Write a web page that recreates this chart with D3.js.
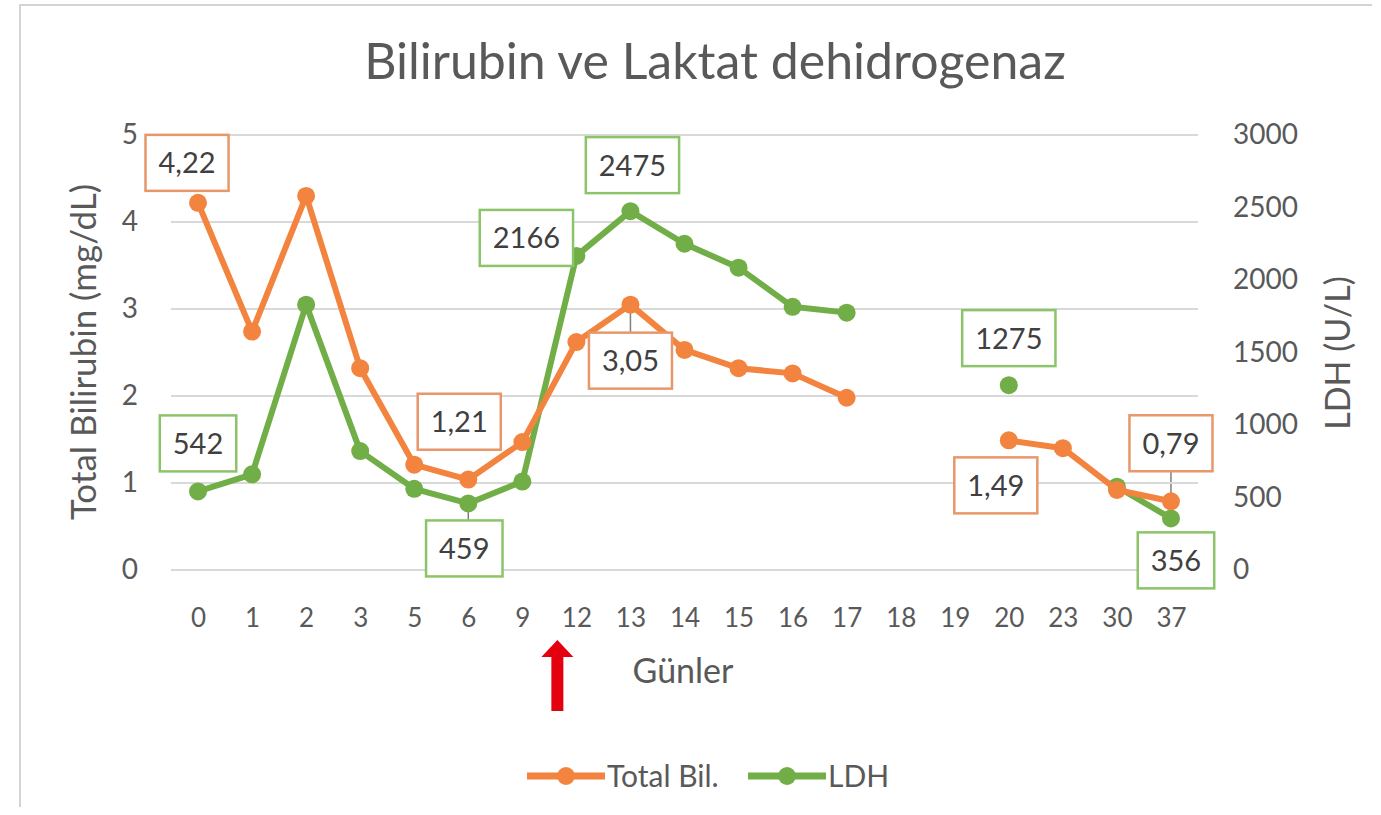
<!DOCTYPE html>
<html>
<head>
<meta charset="utf-8">
<script src="https://cdn.jsdelivr.net/npm/d3@7"></script>
<style>
  body { margin: 0; background: #fff; }
  svg text { font-family: Lato, "Open Sans", sans-serif; }
</style>
</head>
<body>
<div class="chart"></div>
<script>
// data
const days = ["0","1","2","3","5","6","9","12","13","14","15","16","17","18","19","20","23","30","37"];
const totalBil = [4.22, 2.74, 4.30, 2.32, 1.21, 1.04, 1.47, 2.62, 3.05, 2.53, 2.32, 2.26, 1.98, null, null, 1.49, 1.40, 0.92, 0.79];
const ldh = [542, 660, 1830, 820, 560, 459, 610, 2166, 2475, 2250, 2085, 1815, 1775, null, null, 1275, null, 575, 356];
const bilTicks = [0, 1, 2, 3, 4, 5];
const ldhTicks = [0, 500, 1000, 1500, 2000, 2500, 3000];
const bilLabelIdx = [0, 4, 8, 15, 18];
const ldhLabelIdx = [0, 5, 7, 8, 15, 18];

// label placement (offset of box centre from point, leader line)
const bilLabelPos = [[-11,-40,false],[45,-43,false],[0,56,true],[-13,45,false],[0,-58,true]];
const ldhLabelPos = [[0,-48,false],[-4,45,true],[-50,-18,false],[2,-46,false],[0,-47,false],[5,42,false]];

const width = 1381, height = 815;
const orange = "#F2843F", green = "#71AE47", grid = "#d9d9d9", txt = "#595959";

const svg = d3.select('.chart').append('svg')
  .attr('width', width)
  .attr('height', height);

// chart frame
svg.append('path')
  .attr('d', 'M20,807 L20,5 L1372,5')
  .attr('fill', 'none')
  .attr('stroke', '#d4d4d4')
  .attr('stroke-width', 2);

const x = d3.scalePoint().domain(days).range([171, 1198]).padding(0.5);
const yL = d3.scaleLinear().domain([0, 5]).range([570, 135]);
const yR = d3.scaleLinear().domain([0, 3000]).range([570, 135]);

// gridlines
svg.append('g')
  .selectAll('line')
  .data(bilTicks)
  .enter()
  .append('line')
    .attr('x1', 171).attr('x2', 1198)
    .attr('y1', d => yL(d)).attr('y2', d => yL(d))
    .attr('stroke', grid)
    .attr('stroke-width', 2);

// axes
const leftAxis = svg.append('g')
  .attr('transform', 'translate(138,0)')
  .call(d3.axisLeft(yL).tickValues(bilTicks).tickFormat(d3.format('d')).tickSize(0).tickPadding(0));
const rightAxis = svg.append('g')
  .attr('transform', 'translate(1233,0)')
  .call(d3.axisRight(yR).tickValues(ldhTicks).tickFormat(d3.format('d')).tickSize(0).tickPadding(0));
const bottomAxis = svg.append('g')
  .attr('transform', 'translate(0,618)')
  .call(d3.axisBottom(x).tickSize(0).tickPadding(0));
[leftAxis, rightAxis, bottomAxis].forEach(a => {
  a.select('.domain').remove();
  a.selectAll('text')
    .attr('fill', txt)
    .style('font-size', '28px');
});
bottomAxis.selectAll('text').attr('dy', '0.35em').style('font-size', '26px');

// titles
svg.append('text')
  .attr('x', 715).attr('y', 79)
  .attr('text-anchor', 'middle')
  .attr('fill', txt)
  .style('font-size', '50px')
  .text('Bilirubin ve Laktat dehidrogenaz');

svg.append('text')
  .attr('transform', 'translate(84,352) rotate(-90)')
  .attr('text-anchor', 'middle')
  .attr('dy', '0.35em')
  .attr('fill', txt)
  .style('font-size', '35px')
  .text('Total Bilirubin (mg/dL)');

svg.append('text')
  .attr('transform', 'translate(1338,353) rotate(-90)')
  .attr('text-anchor', 'middle')
  .attr('dy', '0.35em')
  .attr('fill', txt)
  .style('font-size', '34px')
  .text('LDH (U/L)');

svg.append('text')
  .attr('x', 683).attr('y', 683)
  .attr('text-anchor', 'middle')
  .attr('fill', txt)
  .style('font-size', '34px')
  .text('Günler');

// series
function drawSeries(values, y, color) {
  const pts = values.map((v, i) => ({day: days[i], v: v}));
  const line = d3.line()
    .defined(d => d.v !== null)
    .x(d => x(d.day))
    .y(d => y(d.v));
  svg.append('path')
    .datum(pts)
    .attr('d', line)
    .attr('fill', 'none')
    .attr('stroke', color)
    .attr('stroke-width', 6)
    .attr('stroke-linejoin', 'round');
  svg.append('g')
    .selectAll('circle')
    .data(pts.filter(d => d.v !== null))
    .enter()
    .append('circle')
      .attr('cx', d => x(d.day))
      .attr('cy', d => y(d.v))
      .attr('r', 9)
      .attr('fill', color);
}
drawSeries(ldh, yR, green);
drawSeries(totalBil, yL, orange);

// data labels
function drawLabels(values, idx, pos, y, color, fmt) {
  idx.forEach((i, k) => {
    const px = x(days[i]), py = y(values[i]);
    const cx = px + pos[k][0], cy = py + pos[k][1];
    const g = svg.append('g');
    const t = g.append('text')
      .attr('x', cx).attr('y', cy)
      .attr('text-anchor', 'middle')
      .attr('dy', '0.36em')
      .attr('fill', '#404040')
      .style('font-size', '29px')
      .text(fmt(values[i]));
    const w = t.node().getComputedTextLength() + 26, h = 56;
    g.insert('rect', 'text')
      .attr('x', cx - w / 2).attr('y', cy - h / 2)
      .attr('width', w).attr('height', h)
      .attr('fill', '#fff')
      .attr('stroke', color)
      .attr('stroke-width', 2.5);
    if (pos[k][2]) {
      const edge = pos[k][1] > 0 ? cy - h / 2 : cy + h / 2;
      svg.insert('line', 'g')
        .attr('x1', px).attr('y1', py)
        .attr('x2', px).attr('y2', edge)
        .attr('stroke', '#7f7f7f')
        .attr('stroke-width', 1.5);
    }
  });
}
const comma = d => d3.format('.2f')(d).replace('.', ',');
drawLabels(totalBil, bilLabelIdx, bilLabelPos, yL, '#E8976A', comma);
drawLabels(ldh, ldhLabelIdx, ldhLabelPos, yR, '#8CC46A', d => String(d));

// red arrow between day 9 and 12
const ax = (x('9') + x('12')) / 2 + 8;
svg.append('path')
  .attr('d', `M${ax},640 L${ax + 16},657 L${ax + 6},657 L${ax + 6},711 L${ax - 6},711 L${ax - 6},657 L${ax - 16},657 Z`)
  .attr('fill', '#E3000F');

// legend
const legend = svg.selectAll('.legend')
  .data([['Total Bil.', orange, 527], ['LDH', green, 748]])
  .enter()
  .append('g')
  .attr('class', 'legend')
  .attr('transform', d => `translate(${d[2]},776)`);
legend.append('line')
  .attr('x1', 0).attr('x2', 78)
  .attr('stroke', d => d[1])
  .attr('stroke-width', 7);
legend.append('circle')
  .attr('cx', 39).attr('r', 9)
  .attr('fill', d => d[1]);
legend.append('text')
  .attr('x', 80).attr('dy', '0.35em')
  .attr('fill', txt)
  .style('font-size', '30px')
  .text(d => d[0]);
</script>
</body>
</html>
